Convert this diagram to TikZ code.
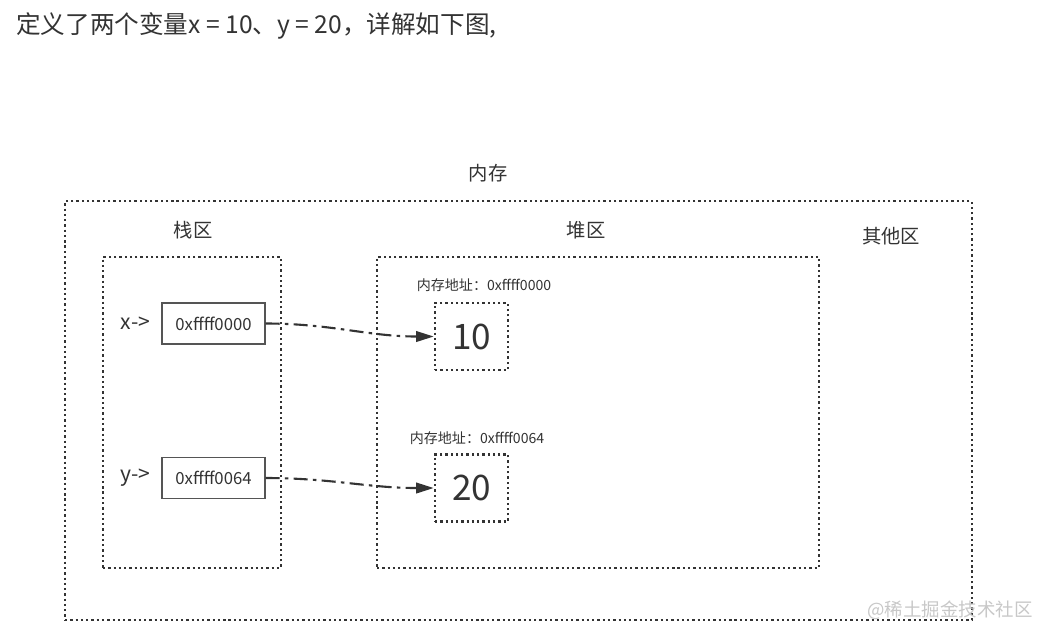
\documentclass[tikz,border=0pt]{standalone}
\usepackage{fontspec}
\setmainfont{Noto Sans CJK SC}
\usepackage{xcolor}
\usetikzlibrary{arrows.meta, positioning}
\definecolor{ink}{HTML}{333333}
\definecolor{frame}{HTML}{555555}
\definecolor{mark}{HTML}{C8C8C8}

\begin{document}
\begin{tikzpicture}[
  x=0.02cm, y=-0.02cm,
  txt/.style={text=ink, inner sep=0pt, font=\fontsize{11}{13}\selectfont},
  small/.style={text=ink, inner sep=0pt, font=\fontsize{8}{10}\selectfont},
  region/.style={draw=ink, line width=1.3pt, dash pattern=on 1.3pt off 1.7pt, inner sep=0pt},
  ptr/.style={draw=frame, line width=0.6pt, minimum width=2.06cm, minimum height=0.82cm, inner sep=0pt, text=ink, font=\fontsize{9.5}{11}\selectfont},
  val/.style={region, line width=1.5pt, minimum width=1.46cm, minimum height=1.34cm, text=ink, font=\fontsize{20}{24}\selectfont},
  arr/.style={-{Triangle[length=10pt, width=6pt]}, draw=ink, line width=1.2pt, dash pattern=on 8pt off 3pt on 2pt off 3pt},
]
\useasboundingbox[fill=white] (0,0) rectangle (1037,627);

% title line
\node[txt, anchor=west, font=\fontsize{14}{16}\selectfont] (title) at (16,26) {定义了两个变量x = 10、y = 20，详解如下图,};

% memory regions
\node[region, minimum width=18.14cm, minimum height=8.38cm] (mem) at (518.5,410.5) {};
\node[region, minimum width=3.56cm, minimum height=6.22cm] (stack) at (192,412.5) {};
\node[region, minimum width=8.84cm, minimum height=6.22cm] (heap) at (598,412.5) {};

\node[txt] (memlbl) at (488,173) {内存};
\node[txt] (stacklbl) at (193,230) {栈区};
\node[txt] (heaplbl) at (586,230) {堆区};
\node[txt] (otherlbl) at (891,236) {其他区};

% stack pointers
\node[ptr] (xptr) at (213.5,323.5) {0xffff0000};
\node[ptr] (yptr) at (213.5,478) {0xffff0064};
\node[txt, left=0.22cm of xptr, font=\fontsize{12}{14}\selectfont] (xlbl) {x->};
\node[txt, left=0.22cm of yptr, font=\fontsize{12}{14}\selectfont] (ylbl) {y->};

% heap values
\node[val] (xval) at (471.5,336.5) {10};
\node[val] (yval) at (471.5,488) {20};
\node[small] (xaddr) at (484,285) {内存地址：0xffff0000};
\node[small] (yaddr) at (477,438) {内存地址：0xffff0064};

\draw[arr] (xptr.east) to[out=0, in=180] (xval.west);
\draw[arr] (yptr.east) to[out=0, in=180] (yval.west);

\node[text=mark, inner sep=0pt, font=\fontsize{10.5}{12}\selectfont] (wm) at (950,610) {@稀土掘金技术社区};

\end{tikzpicture}
\end{document}
